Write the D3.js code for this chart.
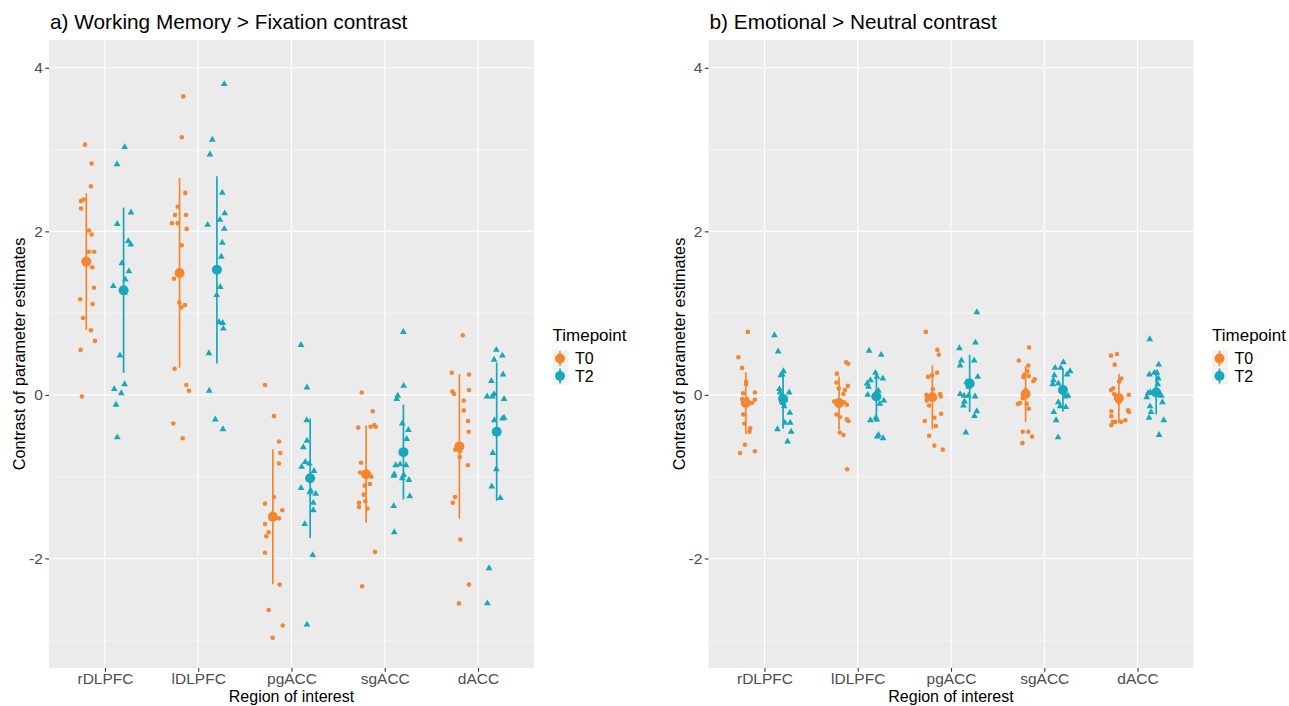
<!DOCTYPE html>
<html><head><meta charset="utf-8">
<script src="https://cdn.jsdelivr.net/npm/d3@7"></script>
<style>body{margin:0;background:#fff} text{font-family:Arial,"Liberation Sans",sans-serif}</style>
</head><body><svg id="c" width="1289" height="706"></svg>
<script>
const regions = ["rDLPFC","lDLPFC","pgACC","sgACC","dACC"];
const timepoints = ["T0","T2"];
const yTicks = [-2,0,2,4];
const yMinor = [-3,-1,1,3];
const titles = ["a) Working Memory > Fixation contrast","b) Emotional > Neutral contrast"];

// Panel a: Working Memory > Fixation, individual estimates per region
const wmT0 = [
 [3.06,2.83,2.55,2.39,2.37,2.28,2.01,1.96,1.75,1.75,1.56,1.31,1.17,1.11,0.94,0.79,0.66,0.55,-0.02],
 [3.65,3.15,2.47,2.30,2.20,2.20,2.10,2.10,2.03,1.83,1.42,1.13,1.10,1.07,0.32,0.12,0.05,-0.35,-0.53],
 [0.12,-0.26,-0.57,-0.71,-0.84,-1.25,-1.33,-1.41,-1.45,-1.47,-1.51,-1.58,-1.68,-1.73,-1.93,-2.32,-2.63,-2.82,-2.97],
 [0.03,-0.20,-0.37,-0.39,-0.39,-0.40,-0.83,-0.95,-0.95,-1.00,-1.09,-1.11,-1.22,-1.30,-1.32,-1.37,-1.39,-1.92,-2.34],
 [0.73,0.27,0.25,0.06,0.04,0.01,-0.07,-0.19,-0.32,-0.45,-0.67,-0.69,-0.76,-0.86,-1.25,-1.32,-1.77,-2.32,-2.55]
];
const wmT0Jitter = [
 [-0.014,0.057,0.050,-0.028,-0.057,-0.057,0.028,0.057,0.028,0.085,0.064,0.082,-0.065,0.068,-0.036,0.050,0.093,-0.061,-0.047],
 [0.040,0.023,0.061,-0.020,-0.049,0.069,-0.082,-0.020,0.076,0.023,-0.060,-0.003,0.058,0.018,-0.053,0.072,0.101,-0.068,0.033],
 [-0.084,0.012,0.066,0.080,0.066,0.012,-0.084,0.101,0,0.02,0.066,-0.084,-0.045,-0.070,-0.084,0.073,-0.045,0.106,-0.002],
 [-0.047,0.071,0.088,0.049,0.103,-0.084,-0.055,-0.065,-0.012,0.056,0.042,-0.015,-0.026,-0.009,-0.076,-0.076,0.013,0.095,-0.044],
 [0.036,-0.082,0.103,0.103,-0.076,-0.057,0.047,0.047,0.093,0.100,-0.043,0.004,0.004,0.090,-0.047,-0.071,0.010,0.103,-0.004]
];
const wmT2 = [
 [3.03,2.82,2.23,2.09,1.88,1.84,1.61,1.51,1.41,1.33,1.30,1.27,1.25,0.48,0.13,0.07,0.02,-0.12,-0.52],
 [3.80,3.12,2.94,2.47,2.22,2.14,2.08,2.03,1.86,1.69,1.32,1.22,0.89,0.88,0.81,0.51,0.05,-0.30,-0.42],
 [0.61,0.09,-0.31,-0.56,-0.64,-0.82,-0.84,-0.88,-0.93,-1.02,-1.14,-1.17,-1.19,-1.21,-1.32,-1.41,-1.58,-1.96,-2.81],
 [0.77,0.11,-0.01,-0.05,-0.35,-0.43,-0.54,-0.72,-0.85,-0.86,-0.86,-0.97,-0.98,-0.99,-1.02,-1.04,-1.24,-1.36,-1.68],
 [0.55,0.48,0.43,0.25,0.17,0.01,-0.02,-0.02,-0.05,-0.28,-0.29,-0.31,-0.47,-0.71,-0.91,-1.12,-1.26,-2.12,-2.55]
];
const wmT2Jitter = [
 [0.011,-0.071,0.079,-0.068,0.050,0.076,-0.018,0.057,0.018,-0.111,0,-0.01,0.01,-0.039,0.011,-0.100,-0.025,-0.082,-0.068],
 [0.079,-0.049,-0.074,0.058,0.084,0.033,-0.099,0.079,0.058,0.047,0.036,-0.002,0.023,0.062,0.069,-0.085,-0.082,-0.017,0.065],
 [-0.098,-0.034,-0.037,-0.034,-0.073,-0.052,-0.009,-0.091,0.041,0,-0.098,0.005,-0.002,0.060,0.034,0.034,-0.058,0.027,-0.034],
 [-0.001,0.003,-0.061,-0.072,-0.012,0.053,0.035,0,-0.036,-0.083,0.028,-0.098,0.003,-0.104,-0.012,0.060,0.068,-0.104,-0.098],
 [-0.004,0.061,-0.028,0.068,-0.057,-0.028,-0.103,-0.047,0.079,0.079,0.061,-0.025,0,-0.042,-0.004,-0.053,0.039,-0.082,-0.100]
];
const wmMeanT0 = [1.63,1.49,-1.49,-0.97,-0.63];
const wmSdT0   = [0.835,1.16,0.825,0.595,0.885];
const wmMeanT2 = [1.28,1.53,-1.02,-0.70,-0.45];
const wmSdT2   = [1.01,1.145,0.73,0.58,0.845];

// Panel b: Emotional > Neutral
const emT0 = [
 [0.77,0.46,0.33,0.16,0.13,0.03,0.02,-0.05,-0.05,-0.06,-0.08,-0.10,-0.24,-0.35,-0.41,-0.45,-0.61,-0.69,-0.71],
 [0.40,0.38,0.26,0.15,0.11,0.08,0.06,0.01,-0.08,-0.08,-0.09,-0.12,-0.24,-0.27,-0.30,-0.32,-0.46,-0.49,-0.91],
 [0.77,0.55,0.49,0.27,0.24,0.22,0.07,0.01,0.00,-0.02,-0.04,-0.07,-0.13,-0.23,-0.28,-0.32,-0.38,-0.50,-0.62,-0.67],
 [0.58,0.42,0.36,0.29,0.25,0.23,0.22,0.19,0.17,0.06,-0.04,-0.10,-0.11,-0.11,-0.17,-0.45,-0.45,-0.51,-0.59],
 [0.50,0.48,0.37,0.20,0.16,0.08,0.06,0.01,0.00,-0.09,-0.19,-0.20,-0.21,-0.26,-0.31,-0.33,-0.33,-0.33,-0.37]
];
const emT0Jitter = [
 [0.022,-0.079,-0.039,0.004,0.004,0.097,-0.028,-0.039,0.01,0.097,-0.01,0.065,-0.028,-0.014,0.047,0.039,-0.010,0.097,-0.061],
 [0.076,0.097,-0.024,-0.028,0.094,-0.003,0.062,0.047,-0.053,-0.024,0.054,0.083,-0.028,0.008,0.083,0.100,0.008,0.047,0.086],
 [-0.070,0.054,0.069,0.051,-0.003,-0.046,0.005,0.083,-0.064,0.091,-0.056,-0.060,-0.035,0.094,0.022,-0.081,0.037,-0.035,0.022,0.112],
 [0.037,-0.073,0.029,0.019,-0.013,0.034,-0.024,0.098,0.083,0.002,-0.031,-0.060,-0.081,0.012,0.034,-0.031,0.029,0.069,-0.035],
 [-0.020,-0.084,-0.045,0.026,0.002,-0.060,-0.084,-0.052,0.106,0,0.098,-0.081,0.109,-0.081,0.069,-0.038,-0.063,0.023,-0.081]
];
const emT2 = [
 [0.73,0.53,0.29,0.25,0.24,0.07,0.03,0.03,-0.02,-0.06,-0.08,-0.10,-0.14,-0.22,-0.34,-0.34,-0.42,-0.45,-0.57],
 [0.54,0.49,0.27,0.22,0.20,0.18,0.14,0.10,0.05,0.03,0.00,-0.07,-0.11,-0.28,-0.30,-0.31,-0.49,-0.51,-0.53],
 [1.01,0.64,0.57,0.42,0.42,0.36,0.22,0.16,0.12,0.10,0.01,-0.01,-0.01,-0.02,-0.08,-0.13,-0.20,-0.26,-0.46],
 [0.40,0.33,0.33,0.29,0.25,0.24,0.18,0.14,0.13,0.07,0.05,-0.01,-0.02,-0.09,-0.14,-0.15,-0.21,-0.31,-0.52],
 [0.68,0.37,0.27,0.27,0.25,0.20,0.13,0.05,0.05,0.03,0.02,-0.01,-0.03,-0.09,-0.14,-0.21,-0.28,-0.31,-0.49]
];
const emT2Jitter = [
 [-0.093,-0.053,0.004,-0.010,-0.024,-0.039,-0.032,0.065,-0.021,0.022,-0.01,0,0.011,0.072,0.019,0.076,-0.061,0.086,0.047],
 [-0.078,0.051,-0.010,0.005,0.069,-0.064,-0.099,-0.085,0.022,0,-0.092,0.080,0.037,-0.006,0.005,-0.064,0.022,0.008,0.072],
 [0.077,0.062,-0.110,-0.088,0.048,-0.102,0.087,-0.031,0.01,-0.01,-0.102,-0.060,-0.013,0.058,-0.056,-0.067,0.077,0.051,-0.041],
 [0.005,-0.084,-0.023,0.077,0.045,-0.092,-0.102,-0.049,-0.109,0.01,-0.01,0.055,0.026,-0.049,-0.031,0.031,-0.098,-0.073,-0.052],
 [-0.069,0.027,-0.020,0.009,-0.073,0.023,0.017,0.01,-0.01,-0.063,-0.087,0.055,-0.101,0.066,-0.066,-0.055,-0.077,0.081,0.031]
];
const emMeanT0 = [-0.10,-0.10,-0.03,0.01,-0.04];
const emSdT0   = [0.38,0.325,0.39,0.34,0.30];
const emMeanT2 = [-0.05,-0.02,0.14,0.06,0.03];
const emSdT2   = [0.365,0.31,0.35,0.265,0.27];

const colors = {T0:"#F5862F", T2:"#17A8BD"};
const dodge = {T0:-0.2, T2:0.2};

const panels = [
  {x0:49, x1:534, title:titles[0],
   vals:{T0:wmT0,T2:wmT2}, jit:{T0:wmT0Jitter,T2:wmT2Jitter},
   mean:{T0:wmMeanT0,T2:wmMeanT2}, sd:{T0:wmSdT0,T2:wmSdT2}},
  {x0:708.5, x1:1193.5, title:titles[1],
   vals:{T0:emT0,T2:emT2}, jit:{T0:emT0Jitter,T2:emT2Jitter},
   mean:{T0:emMeanT0,T2:emMeanT2}, sd:{T0:emSdT0,T2:emSdT2}}
];

const svg = d3.select("#c");
const plotTop = 40, plotBottom = 668;
const tri = d3.symbol().type(d3.symbolTriangle).size(20);
const FONT = "Arial, 'Liberation Sans', sans-serif";

panels.forEach(p => {
  const g = svg.append("g");
  const x = d3.scaleLinear().domain([-0.6, 4.6]).range([p.x0, p.x1]);
  const y = d3.scaleLinear().domain([-3.34, 4.34]).range([plotBottom, plotTop]);

  g.append("rect").attr("x",p.x0).attr("y",plotTop).attr("width",p.x1-p.x0).attr("height",plotBottom-plotTop).attr("fill","#EBEBEB");
  g.append("g").selectAll("line").data(yMinor).join("line")
    .attr("x1",p.x0).attr("x2",p.x1).attr("y1",d=>y(d)).attr("y2",d=>y(d))
    .attr("stroke","#fff").attr("stroke-width",0.55);
  g.append("g").selectAll("line").data(yTicks).join("line")
    .attr("x1",p.x0).attr("x2",p.x1).attr("y1",d=>y(d)).attr("y2",d=>y(d))
    .attr("stroke","#fff").attr("stroke-width",1.1);
  g.append("g").selectAll("line").data(regions.map((r,i)=>i)).join("line")
    .attr("x1",d=>x(d)).attr("x2",d=>x(d)).attr("y1",plotTop).attr("y2",plotBottom)
    .attr("stroke","#fff").attr("stroke-width",1.1);

  // individual points
  timepoints.forEach(tp => {
    const pts = [];
    p.vals[tp].forEach((arr,i) => arr.forEach((v,k) => pts.push({i, v, j:p.jit[tp][i][k]})));
    if (tp === "T0") {
      g.append("g").selectAll("circle").data(pts).join("circle")
        .attr("cx",d=>x(d.i+dodge[tp]+d.j)).attr("cy",d=>y(d.v)).attr("r",2.3)
        .attr("fill",colors[tp]);
    } else {
      g.append("g").selectAll("path").data(pts).join("path")
        .attr("d",tri)
        .attr("transform",d=>`translate(${x(d.i+dodge[tp]+d.j)},${y(d.v)})`)
        .attr("fill",colors[tp]);
    }
  });

  // mean +/- sd pointranges
  timepoints.forEach(tp => {
    const sm = p.mean[tp].map((m,i)=>({i, m, s:p.sd[tp][i]}));
    const gg = g.append("g");
    gg.selectAll("line").data(sm).join("line")
      .attr("x1",d=>x(d.i+dodge[tp])).attr("x2",d=>x(d.i+dodge[tp]))
      .attr("y1",d=>y(d.m+d.s)).attr("y2",d=>y(d.m-d.s))
      .attr("stroke",colors[tp]).attr("stroke-width",1.7);
    gg.selectAll("circle").data(sm).join("circle")
      .attr("cx",d=>x(d.i+dodge[tp])).attr("cy",d=>y(d.m)).attr("r",5)
      .attr("fill",colors[tp]);
  });

  // axes
  const ya = g.append("g").attr("transform",`translate(${p.x0},0)`)
    .call(d3.axisLeft(y).tickValues(yTicks).tickSize(3.7).tickPadding(2.5).tickFormat(d=>String(d)));
  const xa = g.append("g").attr("transform",`translate(0,${plotBottom})`)
    .call(d3.axisBottom(x).tickValues([0,1,2,3,4]).tickSize(3.7).tickPadding(1.5).tickFormat(i=>regions[i]));
  [ya,xa].forEach(a => {
    a.attr("font-size",15.5).attr("font-family",FONT);
    a.select(".domain").remove();
    a.selectAll(".tick line").attr("stroke","#333").attr("stroke-width",1.1);
    a.selectAll(".tick text").attr("fill","#4D4D4D").style("font-size","15.5px").style("font-family",FONT);
  });

  // titles
  g.append("text").attr("x",p.x0+1).attr("y",28.5).text(p.title)
    .style("font-size","20.8px").attr("fill","#000");
  g.append("text").attr("x",(p.x0+p.x1)/2).attr("y",702).attr("text-anchor","middle")
    .text("Region of interest").style("font-size","16px");
  g.append("text").attr("transform",`translate(${p.x0-24},${(plotTop+plotBottom)/2}) rotate(-90)`)
    .attr("text-anchor","middle").text("Contrast of parameter estimates").style("font-size","16.3px");

  // legend
  const lx = p.x1 + 18.5;
  const lg = g.append("g");
  lg.append("text").attr("x",lx).attr("y",340.5).text("Timepoint").style("font-size","17px");
  timepoints.forEach((tp,k) => {
    const cy = 358.5 + k*17.5;
    lg.append("rect").attr("x",lx).attr("y",cy-8.6).attr("width",16).attr("height",17.2).attr("fill","#F2F2F2");
    lg.append("line").attr("x1",lx+7.5).attr("x2",lx+7.5).attr("y1",cy-7.5).attr("y2",cy+7.5)
      .attr("stroke",colors[tp]).attr("stroke-width",1.7);
    lg.append("circle").attr("cx",lx+7.5).attr("cy",cy).attr("r",5).attr("fill",colors[tp]);
    lg.append("text").attr("x",lx+22.5).attr("y",cy+5.8).text(tp).style("font-size","16px");
  });
});
</script></body></html>
